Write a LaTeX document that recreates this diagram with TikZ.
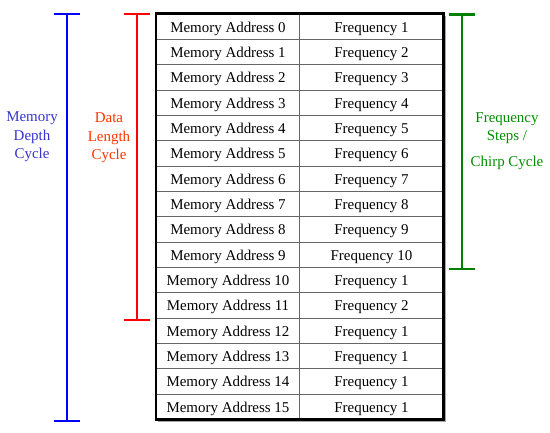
\documentclass[tikz,border=0pt]{standalone}
\usepackage{fontspec}
\setmainfont{Liberation Serif}
\definecolor{depthblue}{RGB}{0,0,255}
\definecolor{depthtext}{RGB}{51,51,204}
\definecolor{lengthred}{RGB}{255,0,0}
\definecolor{lengthtext}{RGB}{255,51,0}
\definecolor{chirpgreen}{RGB}{0,128,0}
\definecolor{chirptext}{RGB}{0,140,0}
\begin{document}
\begin{tikzpicture}[x=1bp, y=-1bp, inner sep=0pt]
		\tikzstyle{every node}=[font=\fontsize{15}{18.5}\selectfont]
		\tikzstyle{cell}=[draw=black!60, line width=0.8bp, minimum width=143.5bp, minimum height=25.33bp, text height=13bp, text depth=2bp]
		\tikzstyle{label}=[align=center]
		\tikzstyle{bracket}=[line width=2.6bp]
			\useasboundingbox (0,0) rectangle (550,433);
			% memory table
			\foreach \i/\f in {0/1,1/2,2/3,3/4,4/5,5/6,6/7,7/8,8/9,9/10,10/1,11/2,12/1,13/1,14/1,15/1} {
				\node[cell] (addr\i) at (228, {26.67+25.33*\i}) {Memory Address \i};
				\node[cell] (freq\i) at (371.5, {26.67+25.33*\i}) {Frequency \f};
			}
			\draw[black!35, line width=1.2bp] ([xshift=2bp, yshift=-2bp]addr0.north west -| freq15.east) -- ([xshift=2bp, yshift=-2bp]freq15.south east) -- ([xshift=2bp, yshift=-2bp]addr15.south west);
			\draw[line width=2.6bp] (addr0.north west) rectangle (freq15.south east);
	
			% cycles
			\draw[bracket, depthblue] (67,14) -- (67,421) (54,14) -- (80,14) (54,421) -- (80,421);
			\node[label, text=depthtext] (depth) at (32,137) {Memory\\Depth\\Cycle};
			\draw[bracket, lengthred] (137,14) -- (137,320) (124,14) -- (150,14) (124,320) -- (150,320);
			\node[label, text=lengthtext] (length) at (109,138) {Data\\Length\\Cycle};
			\draw[bracket, chirpgreen] (462,14.5) -- (462,269) (449,14.5) -- (475,14.5) (449,269) -- (475,269);
			\node[label, text=chirptext] (chirp) at (507,141) {Frequency\\Steps /\\[7bp]Chirp Cycle};
		\end{tikzpicture}
\end{document}
